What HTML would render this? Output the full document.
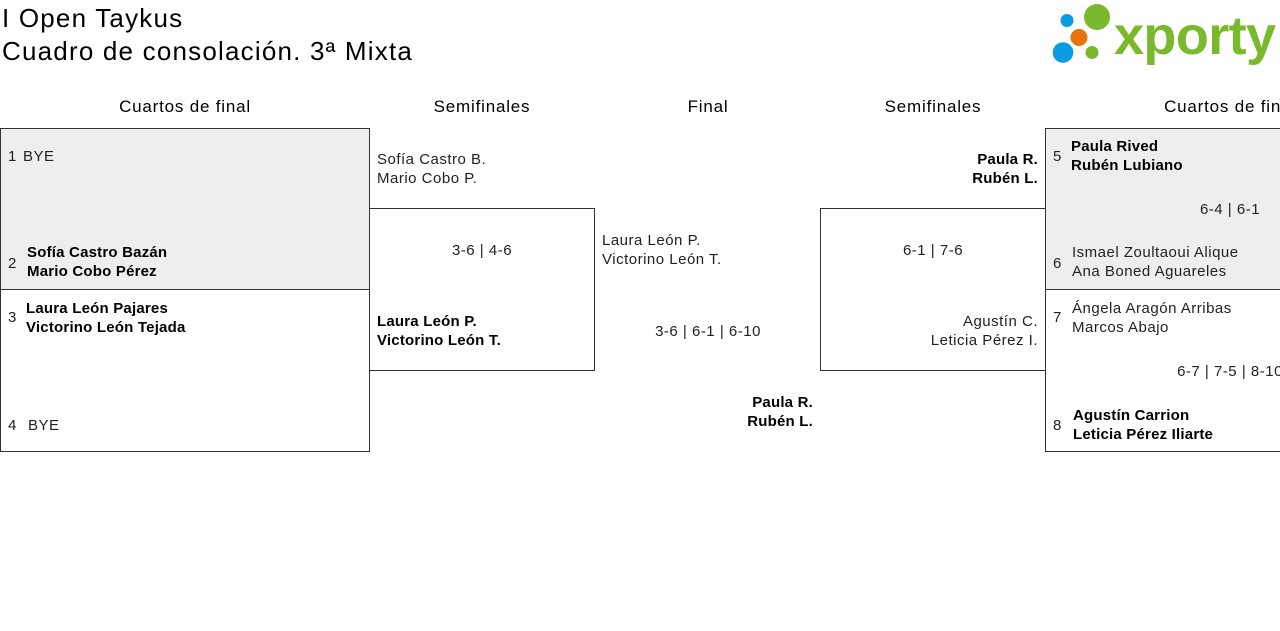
<!DOCTYPE html>
<html><head><meta charset="utf-8">
<style>
*{margin:0;padding:0;box-sizing:border-box}
html,body{width:1280px;height:631px;overflow:hidden;background:#fff}
body{position:relative;font-family:"Liberation Sans",sans-serif;color:#222}
.a{position:absolute;white-space:nowrap}
.t{font-size:26px;line-height:33px;letter-spacing:1.2px;color:#000;left:2px;top:2px}
.h{font-size:17px;line-height:20px;letter-spacing:0.8px;color:#000;top:97px;width:300px;text-align:center}
.n{font-size:15px;line-height:19px;letter-spacing:0.5px;color:#222}
.b{font-weight:bold;color:#000;letter-spacing:0.2px}
.r{text-align:right}
.c{text-align:center;width:200px}
.box{position:absolute;border:1px solid #333}
.gray{position:absolute;background:#eee}
.line{position:absolute;background:#333}
</style></head><body>

<div class="a t">I Open Taykus<br>Cuadro de consolación. 3ª Mixta</div>

<svg class="a" style="left:1040px;top:0" width="240" height="70">
 <circle cx="27" cy="20.5" r="6.5" fill="#0a9ce0"/>
 <circle cx="57" cy="17" r="13" fill="#7ab82c"/>
 <circle cx="39" cy="37.5" r="8.5" fill="#e8720c"/>
 <circle cx="23" cy="52.5" r="10.3" fill="#0a9ce0"/>
 <circle cx="52" cy="52.5" r="6.5" fill="#7ab82c"/>
 <text x="74" y="54" font-family="Liberation Sans" font-weight="bold" font-size="54" fill="#7ab82c" letter-spacing="-0.6">xporty</text>
</svg>

<!-- headers -->
<div class="a h" style="left:35px">Cuartos de final</div>
<div class="a h" style="left:332px">Semifinales</div>
<div class="a h" style="left:558px">Final</div>
<div class="a h" style="left:783px">Semifinales</div>
<div class="a h" style="left:1080px">Cuartos de final</div>

<!-- left QF -->
<div class="gray" style="left:0;top:128px;width:370px;height:162px"></div>
<div class="box" style="left:0;top:128px;width:370px;height:324px"></div>
<div class="line" style="left:0;top:289px;width:370px;height:1px"></div>

<!-- left SF -->
<div class="box" style="left:369px;top:208px;width:226px;height:163px"></div>

<!-- right SF -->
<div class="box" style="left:820px;top:208px;width:226px;height:163px"></div>

<!-- right QF -->
<div class="gray" style="left:1045px;top:128px;width:240px;height:162px"></div>
<div class="box" style="left:1045px;top:128px;width:260px;height:324px"></div>
<div class="line" style="left:1045px;top:289px;width:240px;height:1px"></div>

<!-- left QF texts -->
<div class="a n" style="left:8px;top:147px">1</div>
<div class="a n" style="left:23px;top:147px">BYE</div>
<div class="a n" style="left:8px;top:254px">2</div>
<div class="a n b" style="left:27px;top:243px">Sofía Castro Bazán<br>Mario Cobo Pérez</div>
<div class="a n" style="left:8px;top:308px">3</div>
<div class="a n b" style="left:26px;top:299px">Laura León Pajares<br>Victorino León Tejada</div>
<div class="a n" style="left:8px;top:416px">4</div>
<div class="a n" style="left:28px;top:416px">BYE</div>

<!-- left SF texts -->
<div class="a n" style="left:377px;top:150px">Sofía Castro B.<br>Mario Cobo P.</div>
<div class="a n c" style="left:382px;top:241px">3-6 | 4-6</div>
<div class="a n b" style="left:377px;top:312px">Laura León P.<br>Victorino León T.</div>

<!-- Final texts -->
<div class="a n" style="left:602px;top:231px">Laura León P.<br>Victorino León T.</div>
<div class="a n c" style="left:608px;top:322px">3-6 | 6-1 | 6-10</div>
<div class="a n b r" style="right:467px;top:393px">Paula R.<br>Rubén L.</div>

<!-- right SF texts -->
<div class="a n b r" style="right:242px;top:150px">Paula R.<br>Rubén L.</div>
<div class="a n c" style="left:833px;top:241px">6-1 | 7-6</div>
<div class="a n r" style="right:242px;top:312px">Agustín C.<br>Leticia Pérez I.</div>

<!-- right QF texts -->
<div class="a n" style="left:1053px;top:147px">5</div>
<div class="a n b" style="left:1071px;top:137px">Paula Rived<br>Rubén Lubiano</div>
<div class="a n c" style="left:1130px;top:200px">6-4 | 6-1</div>
<div class="a n" style="left:1053px;top:254px">6</div>
<div class="a n" style="left:1072px;top:243px">Ismael Zoultaoui Alique<br>Ana Boned Aguareles</div>
<div class="a n" style="left:1053px;top:308px">7</div>
<div class="a n" style="left:1072px;top:299px">Ángela Aragón Arribas<br>Marcos Abajo</div>
<div class="a n c" style="left:1130px;top:362px">6-7 | 7-5 | 8-10</div>
<div class="a n" style="left:1053px;top:416px">8</div>
<div class="a n b" style="left:1073px;top:406px">Agustín Carrion<br>Leticia Pérez Iliarte</div>

</body></html>
